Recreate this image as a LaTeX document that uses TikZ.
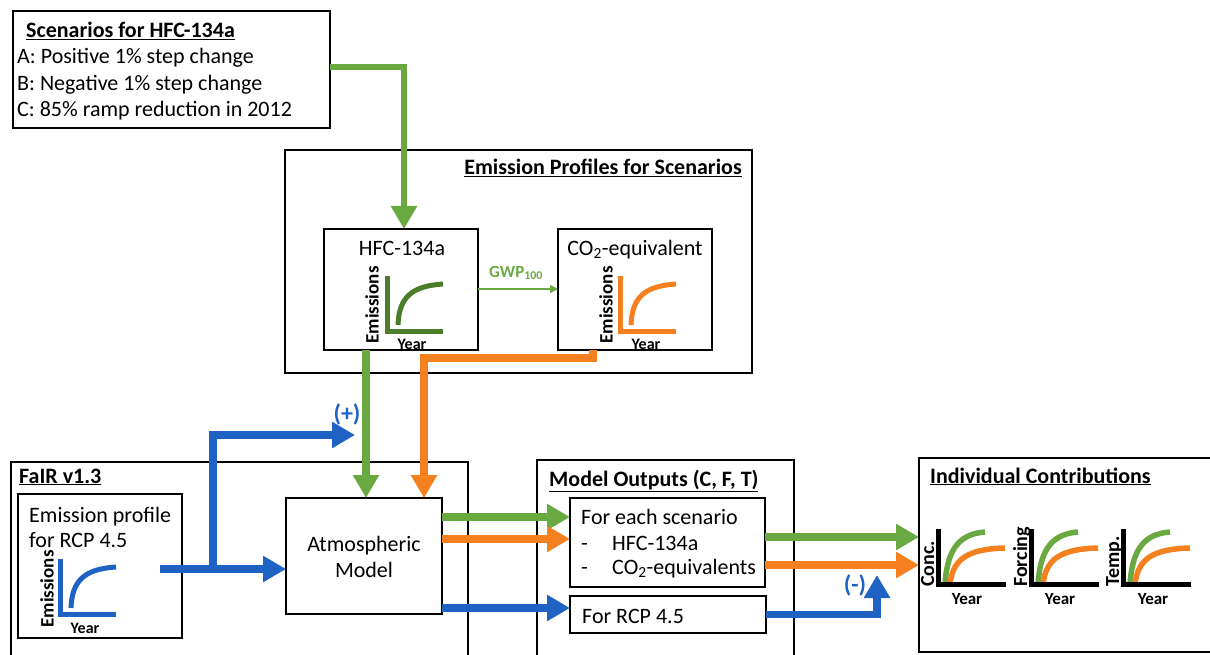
\documentclass[tikz,border=0pt]{standalone}
\usepackage{fontspec}
\setmainfont{Carlito}
\usetikzlibrary{arrows.meta}
\definecolor{cgreen}{HTML}{6AA842}
\definecolor{corange}{HTML}{F5801F}
\definecolor{cblue}{HTML}{1E62C4}
\definecolor{cdgreen}{HTML}{4A7D2A}
\newcommand\bx[5]{\node[box, minimum width={#4-#2}, minimum height={#5-#3}] (#1) at ({(#2+#4)/2},{(#3+#5)/2}) {};}
\newcommand\emchart[3]{%
  \draw[#3, line width=5pt] ({#1+11},{#2-6}) .. controls ({#1+12},{#2-34}) and ({#1+25},{#2-45}) .. ({#1+56},{#2-47});
  \draw[#3, line width=5pt] (#1,{#2-55}) -- (#1,#2) -- ({#1+56},#2);}
\newcommand\icchart[2]{%
  \draw[cgreen, line width=5.5pt] ({#1+7},#2) .. controls ({#1+9},{#2-30}) and ({#1+18},{#2-50}) .. ({#1+47},{#2-52});
  \draw[corange, line width=5.5pt] ({#1+12},#2) .. controls ({#1+15},{#2-24}) and ({#1+28},{#2-35}) .. ({#1+67},{#2-36});
  \draw[black, line width=5pt] (#1,{#2-55}) -- (#1,#2) -- ({#1+68},#2);}
\begin{document}
\begin{tikzpicture}[x=1pt,y=-1pt,
  font=\fontsize{22}{26}\selectfont,
  box/.style={draw, line width=1.6pt, inner sep=0pt, outer sep=0pt},
  txt/.style={anchor=base west, inner sep=0pt},
  lab/.style={font=\fontsize{16}{18}\selectfont\bfseries, inner sep=0pt},
  rlab/.style={font=\fontsize{19}{21}\selectfont\bfseries, inner sep=0pt, rotate=90},
  clab/.style={font=\fontsize{20}{22}\selectfont\bfseries, inner sep=0pt, rotate=90, anchor=base west},
  ylab/.style={font=\fontsize{17}{19}\selectfont\bfseries, inner sep=0pt, anchor=base},
  sign/.style={font=\fontsize{24}{26}\selectfont\bfseries, text=cblue, inner sep=0pt},
  fat/.style={line width=7.5pt, -{Triangle[width=25pt,length=23pt]}},
]
\useasboundingbox (0,0) rectangle (1210,655);
% boxes
\bx{scen}{13}{11}{330}{128}
\bx{epf}{285}{150}{752}{373}
\bx{hfc}{324}{229}{478}{350}
\bx{co2}{558}{229}{712}{350}
\bx{fair}{11}{462}{468}{680}
\bx{rcpin}{18}{494}{182}{638}
\bx{atm}{286}{498}{442}{614}
\bx{mo}{537}{460}{794}{680}
\bx{each}{570}{498}{765}{587}
\bx{rcpout}{570}{596}{766}{633}
\bx{ind}{919}{458}{1220}{652}
% texts
\node[txt] (scT) at (26,38) {\bfseries\underline{Scenarios for HFC-134a}};
\node[txt] (scA) at (17,64) {A: Positive 1\% step change};
\node[txt] (scB) at (17,91) {B: Negative 1\% step change};
\node[txt] (scC) at (17,117) {C: 85\% ramp reduction in 2012};
\node[anchor=base east, inner sep=0pt] (epfT) at (742,175) {\bfseries\underline{Emission Profiles for Scenarios}};
\node[anchor=base, inner sep=0pt] (hfcT) at (402,255) {HFC-134a};
\node[anchor=base, inner sep=0pt] (co2T) at (635,255) {CO\textsubscript{2}-equivalent};
\node[txt] (fairT) at (19,483) {\bfseries\underline{FaIR v1.3}};
\node[txt] (rcpT1) at (29,522) {Emission profile};
\node[txt] (rcpT2) at (29,547) {for RCP 4.5};
\node[anchor=base, inner sep=0pt] (atmT1) at (364,551) {Atmospheric};
\node[anchor=base, inner sep=0pt] (atmT2) at (364,577) {Model};
\node[txt] (moT) at (549,486) {\bfseries\underline{Model Outputs (C, F, T)}};
\node[txt] (eaT1) at (581,524) {For each scenario};
\node[txt] (eaD1) at (581,550) {-};
\node[txt] (eaT2) at (612,550) {HFC-134a};
\node[txt] (eaD2) at (581,574) {-};
\node[txt] (eaT3) at (612,574) {CO\textsubscript{2}-equivalents};
\node[txt] (roT) at (582,623) {For RCP 4.5};
\node[txt] (indT) at (930,483) {\bfseries\underline{Individual Contributions}};
% mini charts
\emchart{387}{331}{cdgreen}
\node[rlab] (hfcE) at (372,305) {Emissions};
\node[lab, anchor=base] (hfcY) at (412,349) {Year};
\emchart{620}{331}{corange}
\node[rlab] (co2E) at (606,305) {Emissions};
\node[lab, anchor=base] (co2Y) at (646,349) {Year};
\emchart{60}{614}{cblue}
\node[rlab] (rcpE) at (47,589) {Emissions};
\node[lab, anchor=base] (rcpY) at (85,633) {Year};
\icchart{938}{584}
\icchart{1031}{584}
\icchart{1123}{584}
\node[clab] (cC) at (934,587) {Conc.};
\node[clab] (cF) at (1027,587) {Forcing};
\node[clab] (cT) at (1119,587) {Temp.};
\node[ylab] (y1) at (967,604) {Year};
\node[ylab] (y2) at (1060,604) {Year};
\node[ylab] (y3) at (1153,604) {Year};
% connectors
\coordinate (s1) at (404,67);
\draw[fat, cgreen, line width=6.5pt] (scen.east |- s1) -| (hfc.north -| s1);
\coordinate (gw) at (0,289);
\draw[cgreen, line width=1.5pt, -{Triangle[width=8pt,length=8pt]}] (hfc.east |- gw) -- (co2.west |- gw);
\node[font=\fontsize{17}{20}\selectfont\bfseries, text=cgreen, inner sep=0pt] (gwp) at (516,273) {GWP\textsubscript{100}};
\coordinate (gx) at (366,0);
\draw[fat, cgreen] (hfc.south -| gx) -- (atm.north -| gx);
\coordinate (ox1) at (593,0);
\coordinate (oc) at (424,358);
\draw[fat, corange] (co2.south -| ox1) |- (oc) -- (atm.north -| oc);
\coordinate (bs) at (160,569);
\coordinate (bsplit) at (213,569);
\coordinate (ptip) at (355,435);
\draw[fat, cblue] (bs) -- (atm.west |- bs);
\draw[fat, cblue] (bsplit) |- (ptip);
\node[sign] (plus) at (347,414) {(+)};
\coordinate (ag) at (0,517);
\coordinate (ao) at (0,539);
\coordinate (ab) at (0,608);
\draw[fat, cgreen] (atm.east |- ag) -- (each.west |- ag);
\draw[fat, corange] (atm.east |- ao) -- (each.west |- ao);
\draw[fat, cblue] (atm.east |- ab) -- (rcpout.west |- ab);
\coordinate (eg) at (0,537);
\coordinate (eo) at (0,565);
\draw[fat, cgreen] (each.east |- eg) -- (ind.west |- eg);
\draw[fat, corange] (each.east |- eo) -- (ind.west |- eo);
\coordinate (mtip) at (877,575);
\draw[fat, cblue] (rcpout.east) -| (mtip);
\node[sign] (minus) at (855,585) {(-)};
\end{tikzpicture}
\end{document}
